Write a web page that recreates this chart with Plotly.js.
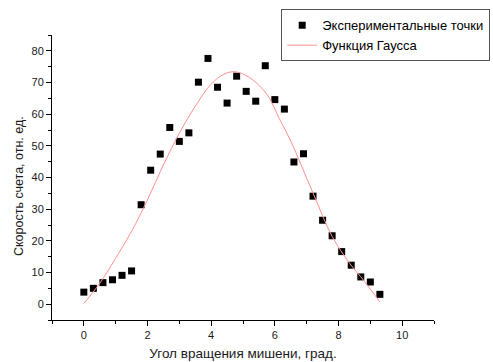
<!DOCTYPE html>
<html>
<head>
<meta charset="utf-8">
<script src="https://cdn.plot.ly/plotly-3.0.1.min.js"></script>
<style>html,body{margin:0;padding:0;background:#fff;}#chart{width:493px;height:362px;}</style>
</head>
<body>
<div id="chart"></div>
<script>
// Experimental points
const angle = [0, 0.3, 0.6, 0.9, 1.2, 1.5, 1.8, 2.1, 2.4, 2.7, 3.0, 3.3, 3.6, 3.9, 4.2, 4.5,
               4.8, 5.1, 5.4, 5.7, 6.0, 6.3, 6.6, 6.9, 7.2, 7.5, 7.8, 8.1, 8.4, 8.7, 9.0, 9.3];
const rate = [3.8, 5.0, 6.8, 7.7, 9.1, 10.5, 31.4, 42.3, 47.4, 55.8, 51.4, 54.1, 70.1, 77.6, 68.5, 63.5,
              72.0, 67.2, 64.1, 75.3, 64.6, 61.6, 44.9, 47.5, 34.1, 26.5, 21.6, 16.6, 12.3, 8.6, 7.0, 3.1];
// Gauss fit curve
const fitX = [0, 0.5, 1.0, 1.5, 2.0, 2.5, 3.0, 3.5, 4.0, 4.4, 4.75, 5.2, 5.75, 6.15, 6.5, 7.2, 7.8, 8.35, 8.8, 9.3];
const fitY = [0.2, 6.6, 14.5, 23.0, 33.0, 44.0, 54.0, 62.5, 69.5, 72.6, 73.4, 71.6, 66.3, 58.4, 51.5, 35.1, 21.4, 12.9, 7.4, 0.7];
const xTicks = [0, 2, 4, 6, 8, 10];
const yTicks = [0, 10, 20, 30, 40, 50, 60, 70, 80];
const seriesNames = ['Экспериментальные точки', 'Функция Гаусса'];
const xTitle = 'Угол вращения мишени, град.';
const yTitle = 'Скорость счета, отн. ед.';

const traces = [
  {x: angle, y: rate, type: 'scatter', mode: 'markers', name: seriesNames[0],
   marker: {symbol: 'square', size: 7, color: '#000000'}},
  {x: fitX, y: fitY, type: 'scatter', mode: 'lines', name: seriesNames[1],
   line: {color: '#ff9090', width: 1, shape: 'spline'}}
];
const fam = '"Liberation Sans", Arial, sans-serif';
const layout = {
  width: 493, height: 362,
  margin: {l: 52, r: 59, t: 35, b: 42, autoexpand: false},
  paper_bgcolor: '#ffffff', plot_bgcolor: '#ffffff',
  font: {family: fam, color: '#1a1a1a'},
  showlegend: true,
  legend: {x: 0.600, y: 1.09, xanchor: 'left', yanchor: 'top',
    bordercolor: '#555', borderwidth: 1, bgcolor: '#ffffff',
    font: {family: fam, size: 13, color: '#000'}, tracegroupgap: 0},
  xaxis: {range: [-1, 11], tickvals: xTicks, ticktext: xTicks.map(String),
    showline: true, linecolor: '#000', linewidth: 1, mirror: false, zeroline: false, showgrid: false,
    ticks: 'outside', ticklen: 5, tickwidth: 1, tickcolor: '#000',
    minor: {dtick: 1, tick0: 0, ticks: 'outside', ticklen: 3, tickcolor: '#000', showgrid: false},
    tickfont: {size: 11, color: '#1a1a1a'},
    title: {text: xTitle, font: {size: 13.5, color: '#1a1a1a'}, standoff: 8}},
  yaxis: {range: [-5, 85], tickvals: yTicks, ticktext: yTicks.map(String),
    showline: true, linecolor: '#000', linewidth: 1, mirror: false, zeroline: false, showgrid: false,
    ticks: 'outside', ticklen: 5, tickwidth: 1, tickcolor: '#000',
    minor: {dtick: 5, tick0: 0, ticks: 'outside', ticklen: 3, tickcolor: '#000', showgrid: false},
    tickfont: {size: 11, color: '#1a1a1a'}},
  annotations: [{text: yTitle, xref: 'paper', yref: 'paper', x: -0.0864, y: 0.47,
    xanchor: 'center', yanchor: 'middle', textangle: -90, showarrow: false,
    font: {family: fam, size: 12.5, color: '#1a1a1a'}}]
};
Plotly.newPlot('chart', traces, layout, {displayModeBar: false, staticPlot: true});
</script>
</body>
</html>
